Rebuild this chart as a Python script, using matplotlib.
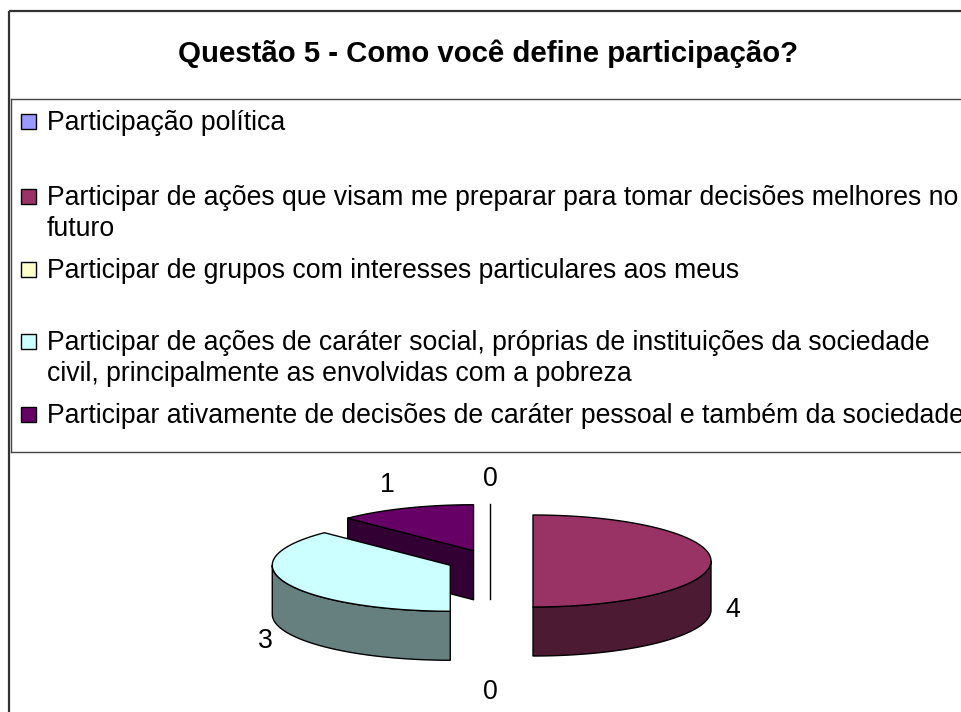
import numpy as np
import matplotlib
matplotlib.use("Agg")
import matplotlib.pyplot as plt
from matplotlib.patches import Polygon, Rectangle
from matplotlib.colors import to_rgb

# ---- data ----
title = "Questão 5 - Como você define participação?"
categories = [
    "Participação política",
    "Participar de ações que visam me preparar para tomar decisões melhores no\nfuturo",
    "Participar de grupos com interesses particulares aos meus",
    "Participar de ações de caráter social, próprias de instituições da sociedade\ncivil, principalmente as envolvidas com a pobreza",
    "Participar ativamente de decisões de caráter pessoal e também da sociedade",
]
values = [0, 4, 0, 3, 1]
colors = ["#9999FF", "#993366", "#FFFFCC", "#CCFFFF", "#660066"]

# ---- figure ----
W, H = 961, 712
fig = plt.figure(figsize=(W / 100, H / 100), dpi=100)
ax = fig.add_axes([0, 0, 1, 1])
ax.set_xlim(0, W)
ax.set_ylim(H, 0)
ax.axis("off")
FONT = "Liberation Sans"
LEG_FS = 19.2

# frame
ax.plot([9, 9], [11, H], color="#333333", lw=1.6, solid_capstyle="butt")
ax.plot([9, W], [11, 11], color="#333333", lw=1.6, solid_capstyle="butt")
# legend box
ax.plot([11, W], [99, 99], color="#444444", lw=1.0)
ax.plot([11, 11], [99, 452], color="#444444", lw=1.0)
ax.plot([11, W], [452, 452], color="#444444", lw=1.0)

# title
ax.text(488, 62, title, fontsize=21.2, fontweight="bold", family=FONT,
        ha="center", va="baseline", color="black")

# legend
item_centers = [121, 196, 269, 341, 414]
line_gap = 31
for lab, col, yc in zip(categories, colors, item_centers):
    ax.add_patch(Rectangle((21, yc - 7.5), 15, 15, facecolor=col,
                           edgecolor="black", lw=1.0))
    for i, line in enumerate(lab.split("\n")):
        ax.text(47, yc + 9 + i * line_gap, line, fontsize=LEG_FS, family=FONT,
                ha="left", va="baseline", color="black")

# ---- 3D exploded pie ----
cx, cy = 490, 561
a, b, h, e = 178, 46, 49, 43
total = sum(values)


def pt(c, t, ra, rb, dz=0):
    return (c[0] + ra * np.sin(t), c[1] - rb * np.cos(t) + dz)


def dark(col):
    r, g, bl = to_rgb(col)
    return (r * 0.5, g * 0.5, bl * 0.5)


slices = []
start = 0.0
for v, col in zip(values, colors):
    span = 2 * np.pi * v / total
    t1, t2 = start, start + span
    mid = (t1 + t2) / 2
    c = (cx + e * np.sin(mid), cy - e * b / a * np.cos(mid))
    slices.append((v, col, t1, t2, mid, c))
    start = t2

# draw back-to-front
order = sorted(range(len(slices)), key=lambda i: slices[i][5][1])
for i in order:
    v, col, t1, t2, mid, c = slices[i]
    if v == 0:
        if np.cos(mid) > 0:
            p0 = pt(c, mid, a, b)
            ax.plot([p0[0], c[0]], [p0[1], c[1] + h], color="black", lw=1.0)
        continue
    side = dark(col)
    # cut faces
    for t, sgn in ((t1, -1), (t2, 1)):
        nrm = t + sgn * np.pi / 2
        if -np.cos(nrm) > 1e-6 and abs(np.sin(t)) > 1e-6:
            r0 = pt(c, t, a, b)
            poly = [c, r0, (r0[0], r0[1] + h), (c[0], c[1] + h)]
            ax.add_patch(Polygon(poly, closed=True, facecolor=side,
                                 edgecolor="black", lw=1.0, joinstyle="round"))
    # outer wall (front half)
    lo, hi = max(t1, np.pi / 2), min(t2, 3 * np.pi / 2)
    if hi > lo:
        ts = np.linspace(lo, hi, 120)
        top = [pt(c, t, a, b) for t in ts]
        bot = [pt(c, t, a, b, h) for t in ts[::-1]]
        ax.add_patch(Polygon(top + bot, closed=True, facecolor=side,
                             edgecolor="black", lw=1.0, joinstyle="round"))
    # top face
    ts = np.linspace(t1, t2, 200)
    poly = [c] + [pt(c, t, a, b) for t in ts]
    ax.add_patch(Polygon(poly, closed=True, facecolor=col,
                         edgecolor="black", lw=1.0, joinstyle="round"))

# labels
for v, col, t1, t2, mid, c in slices:
    lx = c[0] + np.sin(mid) * (a + 22)
    ly = c[1] - np.cos(mid) * (b + 25)
    if np.cos(mid) < 1e-6:
        ly += h
    if np.sin(mid) < -1e-6 and np.cos(mid) > 0:
        lx -= 10
    ax.text(lx, ly, str(v), fontsize=LEG_FS, family=FONT, ha="center",
            va="center", color="black")

fig.savefig("out.png", dpi=100)
